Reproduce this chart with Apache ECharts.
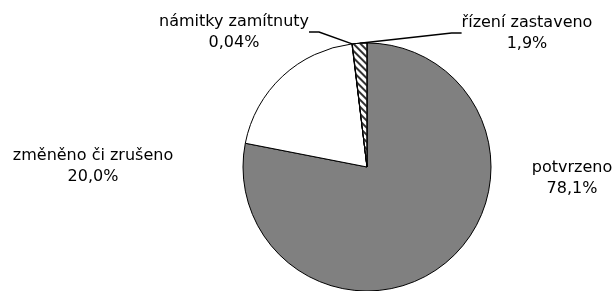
<!DOCTYPE html>
<html>
<head>
<meta charset="utf-8">
<script src="https://cdn.jsdelivr.net/npm/echarts@6/dist/echarts.min.js"></script>
<style>
    html, body { margin: 0; padding: 0; background: #fff; }
    #chart { width: 616px; height: 291px; }
</style>
</head>
<body>
<div id="chart"></div>
<script>
    // data
    var names = ['potvrzeno', 'změněno či zrušeno', 'námitky zamítnuty', 'řízení zastaveno'];
    var values = [78.1, 20.0, 0.04, 1.9];
    var pctLabels = ['78,1%', '20,0%', '0,04%', '1,9%'];

    // label spots (text centre)
    var labelSpots = [[572, 178], [93, 166], [234, 32], [527, 33]];

    function buildData() {
        var out = [];
        for (var i = 0; i < names.length; i++) {
            var item = {name: names[i], value: values[i], pct: pctLabels[i]};
            if (i === 0) {
                item.itemStyle = {color: '#808080'};
            } else if (i === 3) {
                item.itemStyle = {
                    color: '#fff',
                    decal: {
                        symbol: 'rect',
                        color: '#333',
                        dashArrayX: [1, 0],
                        dashArrayY: [1.2, 2.2],
                        rotation: Math.PI / 4
                    }
                };
            } else {
                item.itemStyle = {color: '#fff'};
            }
            item.labelLine = {show: i >= 2};
            out.push(item);
        }
        return out;
    }

    var chart = echarts.init(document.getElementById('chart'), null, {renderer: 'canvas'});
    chart.setOption({
        backgroundColor: '#fff',
        animation: false,
        series: [{
            type: 'pie',
            center: [367, 167],
            radius: 124,
            startAngle: 90,
            clockwise: true,
            avoidLabelOverlap: false,
            data: buildData(),
            itemStyle: {borderColor: '#000', borderWidth: 1},
            label: {
                show: true,
                position: 'outside',
                formatter: function (p) { return p.name + '\n' + p.data.pct; },
                fontFamily: 'DejaVu Sans',
                fontSize: 16,
                lineHeight: 21,
                color: '#000',
                align: 'center'
            },
            labelLine: {
                show: true,
                length: 10,
                length2: 10,
                lineStyle: {color: '#000', width: 1.5}
            },
            labelLayout: function (params) {
                var s = labelSpots[params.dataIndex];
                return {x: s[0], y: s[1], align: 'center', verticalAlign: 'middle'};
            },
            emphasis: {disabled: true}
        }]
    });
</script>
</body>
</html>
